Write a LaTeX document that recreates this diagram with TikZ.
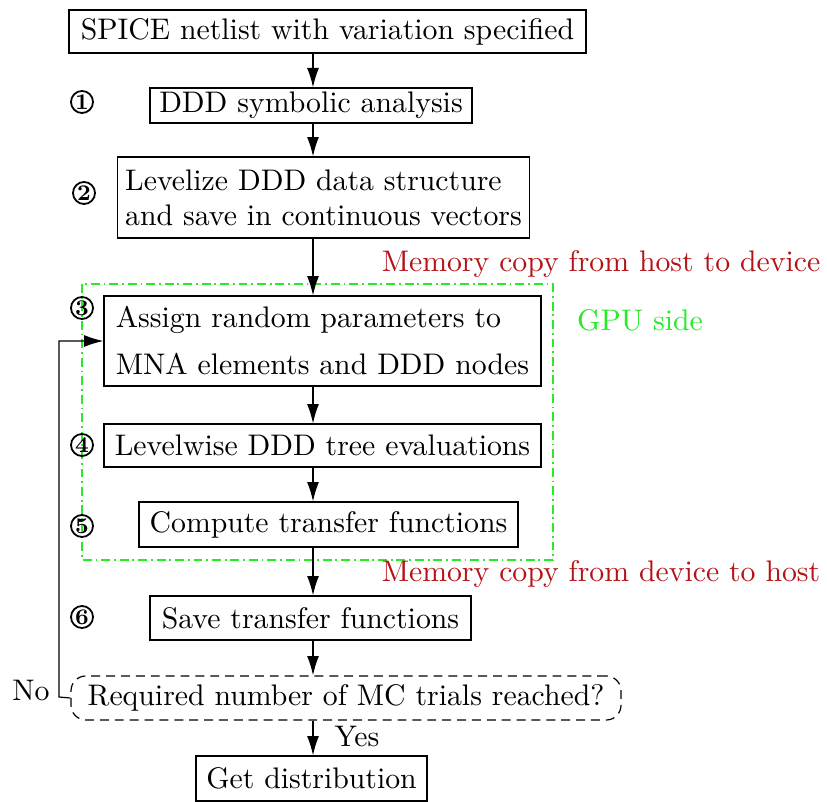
\documentclass[tikz,border=0pt]{standalone}
\usetikzlibrary{arrows.meta}
\definecolor{memred}{RGB}{180,18,22}
\definecolor{gpugreen}{RGB}{40,235,40}
\begin{document}
\begin{tikzpicture}[x=0.336pt,y=-0.336pt,
  box/.style={draw,line width=0.4pt,inner sep=0pt,align=center,font=\fontsize{10}{12}\selectfont},
  decbox/.style={box,dash pattern=on 3pt off 2pt,rounded corners=5pt},
  num/.style={circle,draw,line width=0.6pt,inner sep=0pt,minimum size=7.4pt,font=\fontsize{7.5}{7.5}\selectfont\bfseries},
  memlbl/.style={text=memred,font=\fontsize{10}{12}\selectfont,inner sep=0pt},
  lbl/.style={font=\fontsize{10}{12}\selectfont,inner sep=0pt},
  flow/.style={-{Latex[length=6.5pt,width=4pt]},line width=0.4pt},
  gpuframe/.style={draw=gpugreen,line width=0.45pt,dash pattern=on 3pt off 1.3pt on 0.6pt off 1.3pt}]
\useasboundingbox (0,0) rectangle (827,802);
% frame
\draw[gpuframe] (82,284) rectangle (553,560);
% boxes
\node[box,minimum width=173.7pt,minimum height=14.4pt] (b1) at (327.5,31.5) {SPICE netlist with variation specified};
\node[box,minimum width=108.2pt,minimum height=11.8pt] (b2) at (311,105.5) {DDD symbolic analysis};
\node[box,minimum width=138.4pt,minimum height=27.2pt,align=left] (b3) at (323.5,197.5) {Levelize DDD data structure\\[-0.3pt]and save in continuous vectors};
\node[box,minimum width=146.8pt,minimum height=30.2pt,align=left] (b4) at (322.5,341) {Assign random parameters to\\[3.8pt]MNA elements and DDD nodes};
\node[box,minimum width=146.8pt,minimum height=14.4pt] (b5) at (322.5,445.5) {Levelwise DDD tree evaluations};
\node[box,minimum width=127.3pt,minimum height=15.1pt] (b6) at (328.5,524.5) {Compute transfer functions};
\node[box,minimum width=107.9pt,minimum height=14.8pt] (b7) at (310.5,618) {Save transfer functions};
\node[decbox,minimum width=184.8pt,minimum height=14.8pt] (dec) at (346,698) {Required number of MC trials reached?};
\node[box,minimum width=77.6pt,minimum height=15.1pt] (b8) at (311.5,778.5) {Get distribution};
% numbers
\node[num] (n1) at (82,102) {1};
\node[num] (n2) at (84,193) {2};
\node[num] (n3) at (82,308) {3};
\node[num] (n4) at (82,445) {4};
\node[num] (n5) at (82,526) {5};
\node[num] (n6) at (82,617) {6};
% labels
\node[memlbl] (m1) at (601,264) {Memory copy from host to device};
\node[memlbl] (m2) at (601,574) {Memory copy from device to host};
\node[lbl,text=gpugreen] (gpu) at (640,320) {GPU side};
\node[lbl] (yes) at (357,736) {Yes};
\node[lbl] (no) at (31,690) {No};
% arrows
\coordinate (ax) at (313,0);
\draw[flow] (b1.south -| ax) -- (b2.north -| ax);
\draw[flow] (b2.south -| ax) -- (b3.north -| ax);
\draw[flow] (b3.south -| ax) -- (b4.north -| ax);
\draw[flow] (b4.south -| ax) -- (b5.north -| ax);
\draw[flow] (b5.south -| ax) -- (b6.north -| ax);
\draw[flow] (b6.south -| ax) -- (b7.north -| ax);
\draw[flow] (b7.south -| ax) -- (dec.north -| ax);
\draw[flow] (dec.south -| ax) -- (b8.north -| ax);
\coordinate (fb) at (59,697);
\draw[flow] (dec.west) -- (fb) |- (b4.west);
\end{tikzpicture}
\end{document}
